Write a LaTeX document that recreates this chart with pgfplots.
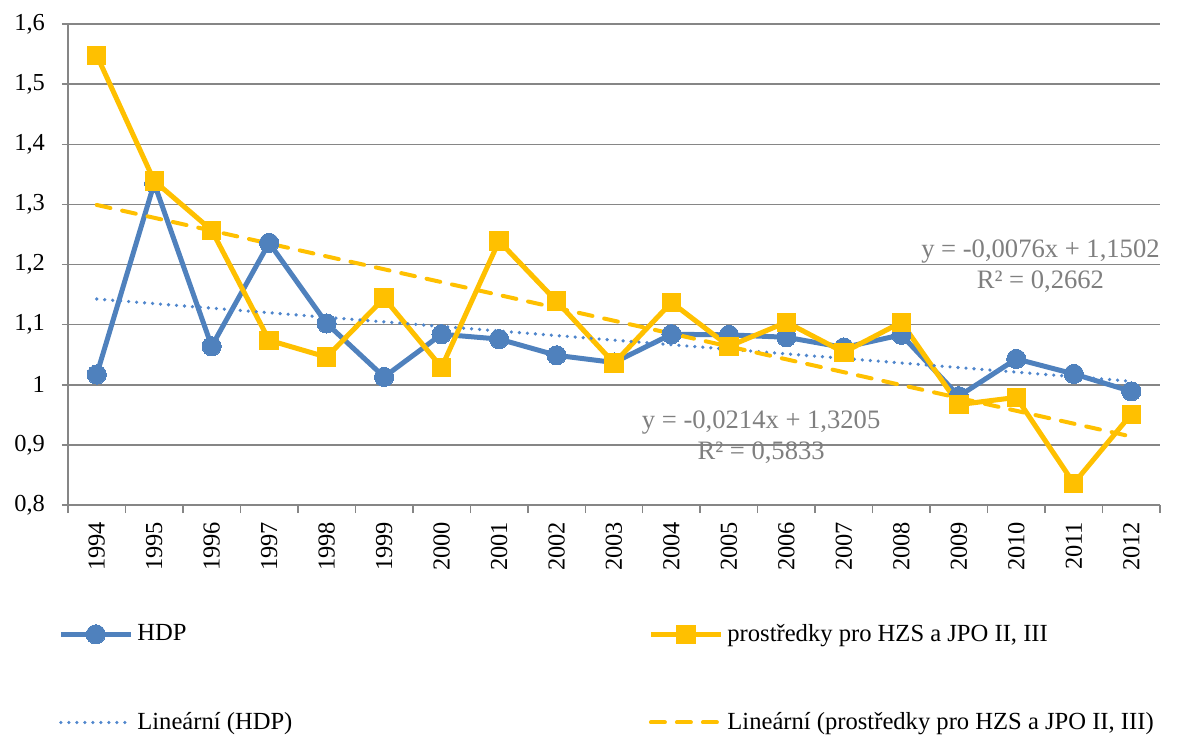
\documentclass[border=0pt]{standalone}
\usepackage{fontspec}
\setmainfont{Liberation Serif}
\usepackage{pgfplots}
\pgfplotsset{compat=1.18}
\definecolor{hdp}{HTML}{4F81BD}
\definecolor{hzs}{HTML}{FFC000}
\definecolor{gridc}{HTML}{868686}
\definecolor{eqc}{HTML}{7F7F7F}
\definecolor{trendb}{HTML}{4F86CC}
\begin{document}
\begin{tikzpicture}
\begin{axis}[
  scale only axis, width=546pt, height=240.5pt,
  xmin=0.5, xmax=19.5, ymin=0.8, ymax=1.6,
  ytick={0.8,0.9,1.0,1.1,1.2,1.3,1.4,1.5,1.6},
  xtick={1,...,19},
  xticklabels={1994,1995,1996,1997,1998,1999,2000,2001,2002,2003,2004,2005,2006,2007,2008,2009,2010,2011,2012},
  minor xtick={0.5,1.5,...,19.5},
  axis x line*=bottom, axis y line*=left,
  axis line style={gridc, line width=0.75pt, -},
  ymajorgrids, grid style={gridc, line width=0.75pt},
  tick style={gridc, line width=0.75pt},
  major x tick style={draw=none},
  tick align=outside,
  major tick length=3pt, minor tick length=4pt,
  ticklabel style={font=\fontsize{12.2}{14}\selectfont, text=black},
  yticklabel style={/pgf/number format/.cd, use comma, fixed, precision=1, assume math mode=true},
  yticklabel shift=5pt,
  xticklabel style={rotate=90, anchor=east, /pgf/number format/assume math mode=true},
  xticklabel shift=2pt,
  legend columns=2,
  legend cell align=left,
  legend style={draw=none, fill=none, at={(-0.0147,-0.2305)}, anchor=north west,
    font=\fontsize{12.3}{14}\selectfont,
    /tikz/every even column/.append style={column sep=176pt},
    row sep=30pt},
  legend image code/.code={\draw[mark repeat=2,mark phase=2,#1] plot coordinates {(0pt,0pt) (17.5pt,0pt) (35pt,0pt)};},
]
\addplot[hdp, line width=2.5pt, mark=*, mark size=4.8pt, mark options={fill=hdp, draw=hdp, line width=0pt}] coordinates {
(1,1.017) (2,1.335) (3,1.064) (4,1.236) (5,1.102) (6,1.013) (7,1.084) (8,1.076) (9,1.049) (10,1.037)
(11,1.084) (12,1.083) (13,1.079) (14,1.062) (15,1.083) (16,0.981) (17,1.043) (18,1.018) (19,0.989)};
\addlegendentry{HDP}
\addplot[hzs, line width=2.5pt, mark=square*, mark size=4.6pt, mark options={fill=hzs, draw=hzs, line width=0pt}] coordinates {
(1,1.548) (2,1.339) (3,1.257) (4,1.074) (5,1.046) (6,1.144) (7,1.029) (8,1.239) (9,1.139) (10,1.036)
(11,1.137) (12,1.064) (13,1.104) (14,1.054) (15,1.104) (16,0.967) (17,0.979) (18,0.836) (19,0.951)};
\addlegendentry{prostředky pro HZS a JPO II, III}
\addplot[trendb, line width=1.8pt, dash pattern=on 0pt off 4pt, line cap=round] coordinates {(1,1.1426) (19,1.0058)};
\addlegendentry{Lineární (HDP)}
\addplot[hzs, line width=2pt, dash pattern=on 7pt off 6pt, line cap=round] coordinates {(1,1.2991) (19,0.9139)};
\addlegendentry{Lineární (prostředky pro HZS a JPO II, III)}
\node[eqc, align=center, font=\fontsize{13.3}{15.5}\selectfont, inner sep=0pt] at (axis cs:17.42,1.197) {y = -0,0076x + 1,1502\\R² = 0,2662};
\node[eqc, align=center, font=\fontsize{13.3}{15.5}\selectfont, inner sep=0pt] at (axis cs:12.56,0.913) {y = -0,0214x + 1,3205\\R² = 0,5833};
\end{axis}
\path (current axis.south west) ++(-34pt,-116.5pt) rectangle ++(594.5pt,369pt);
\end{tikzpicture}
\end{document}
